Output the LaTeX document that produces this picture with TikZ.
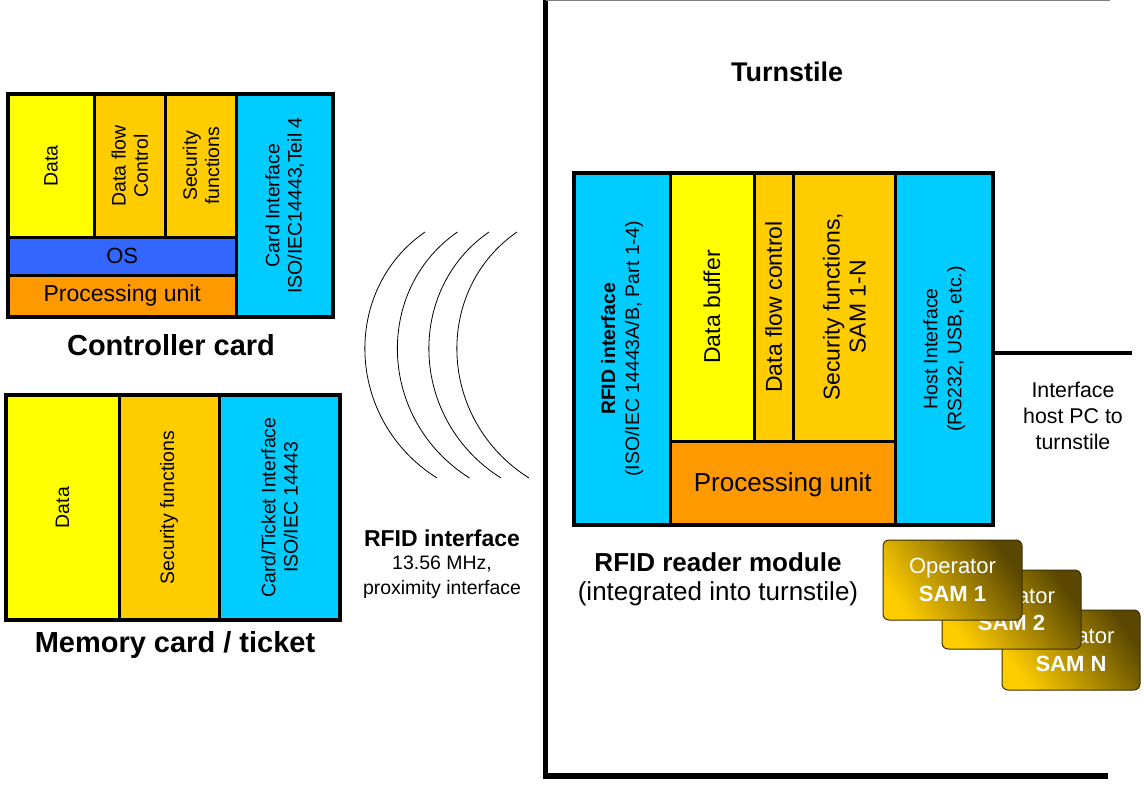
\documentclass[tikz,border=0pt]{standalone}
\usepackage{fontspec}
\setmainfont{Liberation Sans}
\definecolor{cyellow}{HTML}{FFFF00}
\definecolor{cgold}{HTML}{FFCC00}
\definecolor{corange}{HTML}{FF9900}
\definecolor{cblue}{HTML}{3366FF}
\definecolor{ccyan}{HTML}{00CCFF}
\definecolor{samlight}{HTML}{FFCC00}
\definecolor{samdark}{HTML}{5A4800}
\definecolor{samedge}{HTML}{3A2E00}
\newcommand\pxbox[6]{%
  \node[#6, minimum width={(#4-#2)*0.75pt}, minimum height={(#5-#3)*0.75pt}] (#1) at ({(#2+#4)/2},{(#3+#5)/2}) {};}
\begin{document}
\begin{tikzpicture}[x=0.75pt,y=-0.75pt,
  cell/.style={draw=black, line width=2.25pt, inner sep=0pt, outer sep=0pt},
  frame/.style={draw=black, line width=3pt, inner sep=0pt, outer sep=0pt},
  vt/.style={rotate=90, align=center, inner sep=0pt, font=\fontsize{14.6}{16.6}\selectfont},
  vtb/.style={rotate=90, align=center, inner sep=0pt, font=\fontsize{17.25}{19.5}\selectfont},
  ht/.style={align=center, inner sep=0pt},
  title/.style={inner sep=0pt, font=\fontsize{21.75}{26}\selectfont\bfseries},
  sam/.style={rounded corners=4.5pt, draw=samedge, line width=0.75pt,
    bottom color=samlight, top color=samdark, shading angle=-55,
    text=white, align=center, inner sep=0pt, font=\fontsize{16.5}{20.5}\selectfont},
  wave/.style={line width=0.6pt},
  bar/.style={line width=4pt}]

\useasboundingbox (0,0) rectangle (1144,785);

% ---------- Turnstile frame ----------
\coordinate (ttop) at (545.5,0);
\coordinate (tcorner) at (545.5,776);
\coordinate (tright) at (1108,776);
\draw[bar] (ttop) -- (tcorner) -- (tright);
\draw[gray, line width=0.75pt] (545.5,0.6) -- (1110,0.6);
\node[inner sep=0pt, font=\fontsize{20.25}{24}\selectfont\bfseries] (turnstile) at (787,72) {Turnstile};

% ---------- Controller card ----------
\pxbox{cdata}{8}{94}{94}{237.5}{cell, fill=cyellow}
\pxbox{cdfc}{94}{94}{165.5}{237.5}{cell, fill=cgold}
\pxbox{csec}{165.5}{94}{236.5}{237.5}{cell, fill=cgold}
\pxbox{cif}{236.5}{94}{333}{317}{cell, fill=ccyan}
\pxbox{cos}{8}{237.5}{236.5}{275}{cell, fill=cblue}
\pxbox{cproc}{8}{275}{236.5}{317}{cell, fill=corange}
\pxbox{ctrl}{8}{94}{333}{317}{frame}
\node[vt] (t-cdata) at (cdata) {Data};
\node[vt] (t-cdfc) at (cdfc) {Data flow\\Control};
\node[vt] (t-csec) at (csec) {Security\\functions};
\node[vt] (t-cif) at (cif) {Card Interface\\ISO/IEC14443,Teil 4};
\node[ht, font=\fontsize{16.5}{20}\selectfont] (t-cos) at (cos) {OS};
\node[ht, font=\fontsize{17.25}{20}\selectfont] (t-cproc) at (cproc) {Processing unit};
\node[title] (ctrllabel) at (171,345) {Controller card};

% ---------- Memory card ----------
\pxbox{mdata}{6}{395}{119}{620}{cell, fill=cyellow}
\pxbox{msec}{119}{395}{219}{620}{cell, fill=cgold}
\pxbox{mif}{219}{395}{340}{620}{cell, fill=ccyan}
\pxbox{mem}{6}{395}{340}{620}{frame}
\node[vt] (t-mdata) at (mdata) {Data};
\node[vt] (t-msec) at (msec) {Security functions};
\node[vt] (t-mif) at (mif) {Card/Ticket Interface\\ISO/IEC 14443};
\node[title] (memlabel) at (175,645) {Memory card / ticket};

% ---------- RF waves ----------
\foreach \d in {0,32.5,64,92}
  \draw[wave] ({425+\d},232) .. controls ({341+\d},290) and ({345+\d},420) .. ({437+\d},478);
\node[ht, font=\fontsize{17.25}{20}\selectfont\bfseries] (rfidlabel) at (442,538) {RFID interface};
\node[ht, font=\fontsize{14.6}{18.75}\selectfont, anchor=north] (rfidsub) at (442,556) {13.56 MHz,\\proximity interface};

% ---------- RFID reader module ----------
\pxbox{rrfid}{574}{173}{670}{525}{cell, fill=ccyan}
\pxbox{rbuf}{670}{173}{754}{441}{cell, fill=cyellow}
\pxbox{rdfc}{754}{173}{793.5}{441}{cell, fill=cgold}
\pxbox{rsec}{793.5}{173}{895.5}{441}{cell, fill=cgold}
\pxbox{rproc}{670}{441}{895.5}{525}{cell, fill=corange}
\pxbox{rhost}{895.5}{173}{993}{525}{cell, fill=ccyan}
\pxbox{reader}{574}{173}{993}{525}{frame}
\node[vt, font=\fontsize{14.6}{18}\selectfont] (t-rrfid) at (rrfid) {\textbf{RFID interface}\\(ISO/IEC 14443A/B, Part 1-4)};
\node[vtb] (t-rbuf) at (rbuf) {Data buffer};
\node[vtb] (t-rdfc) at (rdfc) {Data flow control};
\node[vtb] (t-rsec) at (rsec) {Security functions,\\SAM 1-N};
\node[vt, font=\fontsize{14.6}{18}\selectfont] (t-rhost) at (rhost) {Host Interface\\(RS232, USB, etc.)};
\node[ht, font=\fontsize{19.5}{22}\selectfont] (t-rproc) at ([yshift=-1.5pt]rproc.center) {Processing unit};
\node[ht, font=\fontsize{19.5}{22}\selectfont, anchor=north] (readerlabel) at (718,552) {\textbf{RFID reader module}\\(integrated into turnstile)};

% ---------- Host connection ----------
\coordinate (hostend) at (1132,353);
\draw[line width=3pt] (reader.east |- hostend) -- (hostend);
\node[ht, font=\fontsize{16}{19.5}\selectfont] (hostlabel) at (1073,416) {Interface\\host PC to\\turnstile};

% ---------- SAM cards ----------
\node[sam, minimum width={138*0.75pt}, minimum height={80*0.75pt}] (samN) at (1071,650) {Operator\\\textbf{SAM N}};
\node[sam, minimum width={139*0.75pt}, minimum height={79*0.75pt}] (sam2) at (1011.5,609.5) {Operator\\\textbf{SAM 2}};
\node[sam, minimum width={139*0.75pt}, minimum height={80*0.75pt}] (sam1) at (952.5,580) {Operator\\\textbf{SAM 1}};
\end{tikzpicture}
\end{document}
